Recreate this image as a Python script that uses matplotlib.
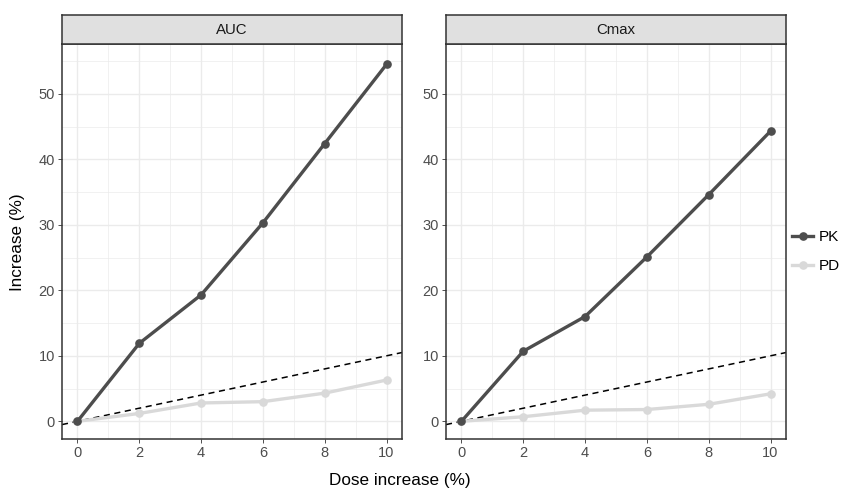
import numpy as np
import matplotlib
matplotlib.use("Agg")
import matplotlib.pyplot as plt
from matplotlib.lines import Line2D

plt.rcParams['font.family'] = ['Liberation Sans', 'DejaVu Sans']

# data
dose = [0, 2, 4, 6, 8, 10]
panels = ["AUC", "Cmax"]
pk_auc = [0, 11.9, 19.3, 30.3, 42.4, 54.5]
pd_auc = [0, 1.2, 2.8, 3.0, 4.3, 6.3]
pk_cmax = [0, 10.7, 16.0, 25.1, 34.6, 44.3]
pd_cmax = [0, 0.7, 1.7, 1.8, 2.6, 4.2]
series = ["PK", "PD"]
colors = {"PK": "#4D4D4D", "PD": "#D9D9D9"}

values = {"AUC": {"PK": pk_auc, "PD": pd_auc},
          "Cmax": {"PK": pk_cmax, "PD": pd_cmax}}

W, H = 844, 492
fig = plt.figure(figsize=(W / 100, H / 100), dpi=100)

ylim = (-2.7, 57.6)

lefts = [62, 446]
pw = 340
ptop, pbot = 44, 439
strip_top = 15

for left, name in zip(lefts, panels):
    ax = fig.add_axes([left / W, 1 - pbot / H, pw / W, (pbot - ptop) / H])
    ax.set_xlim(-0.5, 10.5)
    ax.set_ylim(*ylim)
    ax.set_xticks(np.arange(0, 11, 2))
    ax.set_xticks(np.arange(1, 11, 2), minor=True)
    ax.set_yticks(np.arange(0, 51, 10))
    ax.set_yticks(np.arange(5, 56, 10), minor=True)
    ax.grid(True, which='major', color='#EBEBEB', lw=1.0)
    ax.grid(True, which='minor', color='#EBEBEB', lw=0.5)
    ax.set_axisbelow(True)
    ax.tick_params(which='major', length=3, width=0.6, color='#333333',
                   labelcolor='#4D4D4D', labelsize=10.5, pad=2)
    ax.tick_params(which='minor', length=0)
    for s in ax.spines.values():
        s.set_color('#333333')
        s.set_linewidth(1.1)

    ax.axline((0, 0), slope=1, color='black', ls=(0, (4, 3)), lw=1.1, zorder=2)
    for ser in series[::-1]:
        ax.plot(dose, values[name][ser], color=colors[ser], lw=2.4,
                marker='o', ms=5.2, zorder=3)

    # strip
    sax = fig.add_axes([left / W, 1 - ptop / H, pw / W, (ptop - strip_top) / H])
    sax.set_xticks([])
    sax.set_yticks([])
    sax.set_facecolor('#E0E0E0')
    for s in sax.spines.values():
        s.set_color('#333333')
        s.set_linewidth(1.1)
    sax.text(0.5, 0.48, name, ha='center', va='center', fontsize=10.8,
             color='#1A1A1A', transform=sax.transAxes)

fig.text(18 / W, 1 - 242 / H, "Increase (%)", rotation=90, ha='center',
         va='center', fontsize=12.3)
fig.text(400 / W, 1 - 481 / H, "Dose increase (%)", ha='center',
         va='center', fontsize=12.3)

handles = [Line2D([], [], color=colors[s], lw=2.4, marker='o', ms=5.2)
           for s in series]
fig.legend(handles, series, loc='center left',
           bbox_to_anchor=(792 / W, 1 - 251.5 / H), frameon=False,
           fontsize=11, handlelength=1.4, handletextpad=0.35,
           labelspacing=1.0, borderpad=0, borderaxespad=0)

fig.savefig("out.png", dpi=100)
